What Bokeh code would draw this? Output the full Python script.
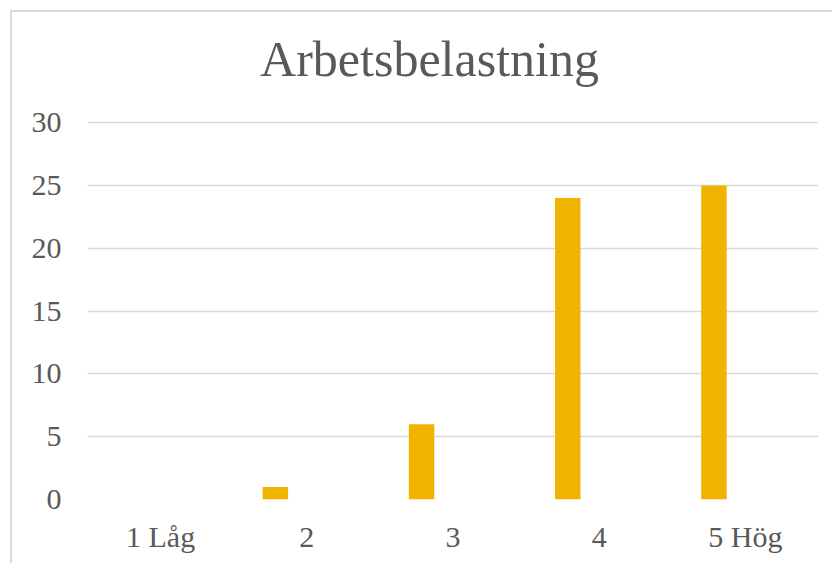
from bokeh.plotting import figure
from bokeh.models import Range1d, FactorRange, Label
from bokeh.transform import dodge
from bokeh.embed import file_html
from bokeh.resources import INLINE

title_text = "Arbetsbelastning"
categories = ["1 Låg", "2", "3", "4", "5 Hög"]
values = [0, 1, 6, 24, 25]
y_ticks = [0, 5, 10, 15, 20, 25, 30]

FONT = "Liberation Serif"
TEXT = "#595959"
GRID = "#d9d9d9"

p = figure(
    x_range=FactorRange(*categories, range_padding=0),
    y_range=Range1d(0, 30.1),
    width=822, height=553,
    output_backend="svg", toolbar_location=None,
    min_border_left=75, min_border_right=16,
    min_border_top=109, min_border_bottom=66,
)
p.margin = (10, 0, 0, 10)
p.styles = {"border-top": "2px solid #d9d9d9", "border-left": "2px solid #d9d9d9"}

p.vbar(x=dodge("x", -0.215, range=p.x_range), top="top", width=0.174,
       source=dict(x=categories, top=values), color="#F0B400", line_color=None)

title = Label(x=342, y=63, x_units="screen", y_units="screen", text=title_text,
              text_font=FONT, text_font_size="50px", text_color=TEXT,
              text_align="center", text_baseline="alphabetic")
p.add_layout(title, "above")

p.outline_line_color = None
p.background_fill_color = "white"
p.border_fill_color = "white"

p.xgrid.grid_line_color = None
p.ygrid.grid_line_color = GRID
p.ygrid.grid_line_width = 1.5
p.yaxis.ticker = y_ticks

for ax in (p.xaxis, p.yaxis):
    ax.axis_line_color = None
    ax.major_tick_line_color = None
    ax.minor_tick_line_color = None
    ax.major_label_text_font = FONT
    ax.major_label_text_font_size = "30px"
    ax.major_label_text_color = TEXT
p.yaxis.major_label_standoff = 20
p.xaxis.major_label_standoff = 14

open("out.html", "w").write(file_html(p, INLINE))
